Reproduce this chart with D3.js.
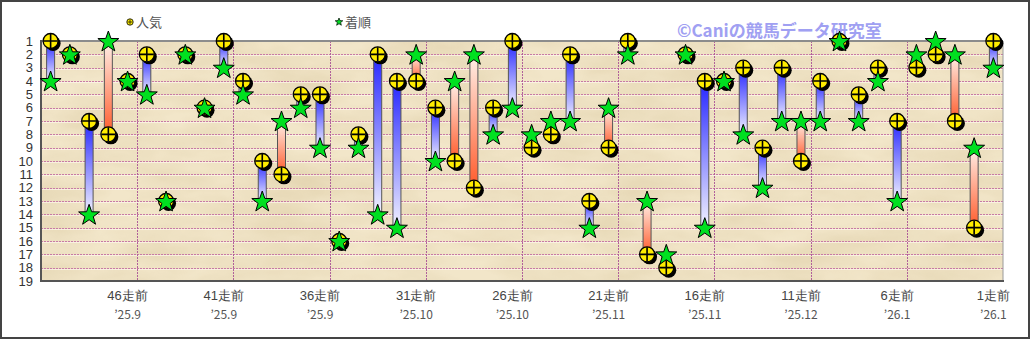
<!DOCTYPE html>
<html><head><meta charset="utf-8">
<script src="https://cdn.jsdelivr.net/npm/d3@7/dist/d3.min.js"></script>
<style>
html,body{margin:0;padding:0;background:#fff;}
svg{display:block;font-family:"Noto Sans CJK JP","Noto Sans",sans-serif;}
</style></head><body>
<svg id="c" width="1030" height="339"></svg>
<script>
// ---- data ----
const races = d3.range(50, 0, -1).map(n => n + "走前");          // 50走前 ... 1走前
const popularity = [1,2,7,8,4,2,13,2,6,1,4,10,11,5,5,16,8,2,4,4,6,10,12,6,1,9,8,2,13,9,1,17,18,2,4,4,3,9,3,10,4,1,5,3,7,3,2,7,15,1];
const finish     = [4,2,14,1,4,5,13,2,6,3,5,13,7,6,9,16,9,14,15,2,10,4,2,8,6,8,7,7,15,6,2,13,17,2,15,4,8,12,7,7,7,1,7,4,13,2,1,2,9,3];
const tickRaces = ["46走前","41走前","36走前","31走前","26走前","21走前","16走前","11走前","6走前","1走前"];
const tickDates = ["’25.9","’25.9","’25.9","’25.10","’25.10","’25.11","’25.11","’25.12","’26.1","’26.1"];
const yTicks = d3.range(1, 20);
const legendLabels = ["人気","着順"];
const watermark = "©Caniの競馬データ研究室";

const svg = d3.select("#c");
const L = 41, R = 1003, T = 41, B = 281;
const x = d3.scaleBand().domain(races).range([L, R]).padding(0);
const y = d3.scaleLinear().domain([1, 19]).range([T, B]);
const cx = r => x(r) + x.bandwidth() / 2;

const defs = svg.append("defs");
// parchment texture
const f = defs.append("filter").attr("id","paper").attr("x",0).attr("y",0).attr("width","100%").attr("height","100%");
f.append("feTurbulence").attr("type","fractalNoise").attr("baseFrequency","0.012 0.03").attr("numOctaves",4).attr("seed",3).attr("result","n");
f.append("feColorMatrix").attr("in","n").attr("type","matrix")
 .attr("values","0 0 0 0 0.55  0 0 0 0 0.42  0 0 0 0 0.2  0 0 0 -1.4 1.0");
f.append("feComposite").attr("operator","in").attr("in2","SourceGraphic");
const gBlue = defs.append("linearGradient").attr("id","gBlue").attr("x1",0).attr("y1",0).attr("x2",0).attr("y2",1);
gBlue.append("stop").attr("offset","0%").attr("stop-color","#2626ff");
gBlue.append("stop").attr("offset","100%").attr("stop-color","#f2f2ff");
const gRed = defs.append("linearGradient").attr("id","gRed").attr("x1",0).attr("y1",0).attr("x2",0).attr("y2",1);
gRed.append("stop").attr("offset","0%").attr("stop-color","#fff1ea");
gRed.append("stop").attr("offset","100%").attr("stop-color","#ff5a2a");

// frame
svg.append("rect").attr("x",1).attr("y",1).attr("width",1028).attr("height",337).attr("fill","#fff").attr("stroke","#444").attr("stroke-width",2);

// plot background
svg.append("rect").attr("x",L).attr("y",T).attr("width",R-L).attr("height",B-T).attr("fill","#f2e6c9");
svg.append("rect").attr("x",L).attr("y",T).attr("width",R-L).attr("height",B-T).attr("fill","#fff").attr("filter","url(#paper)").attr("opacity",0.3);

// horizontal gridlines
svg.append("g").selectAll("line").data(yTicks.slice(1,-1)).join("line")
  .attr("x1",L).attr("x2",R).attr("y1",d=>Math.round(y(d))+0.5).attr("y2",d=>Math.round(y(d))+0.5)
  .attr("stroke","#c77aa6").attr("stroke-width",1).attr("stroke-dasharray","2,1");
svg.append("g").selectAll("line").data(yTicks.slice(1,-1)).join("line")
  .attr("x1",L).attr("x2",R).attr("y1",d=>Math.round(y(d))+1.5).attr("y2",d=>Math.round(y(d))+1.5)
  .attr("stroke","#fff8ee").attr("stroke-width",1).attr("opacity",0.7);
// vertical gridlines
svg.append("g").selectAll("line").data(tickRaces.slice(0,-1)).join("line")
  .attr("x1",d=>Math.round(x(d)+x.bandwidth())+0.5).attr("x2",d=>Math.round(x(d)+x.bandwidth())+0.5)
  .attr("y1",T).attr("y2",B)
  .attr("stroke","#b0609a").attr("stroke-width",1).attr("stroke-dasharray","2,1");

// plot border
svg.append("line").attr("x1",L).attr("x2",R).attr("y1",T).attr("y2",T).attr("stroke","#8c8c8c").attr("stroke-width",2);
svg.append("line").attr("x1",R).attr("x2",R).attr("y1",T).attr("y2",B).attr("stroke","#9a9a9a").attr("stroke-width",1);
svg.append("line").attr("x1",L).attr("x2",R+1).attr("y1",B).attr("y2",B).attr("stroke","#555").attr("stroke-width",2);
svg.append("line").attr("x1",L).attr("x2",L).attr("y1",T-1).attr("y2",B+1).attr("stroke","#555").attr("stroke-width",2);

// y axis labels
const yAxis = svg.append("g").attr("transform",`translate(${L-8},0)`)
  .call(d3.axisLeft(y).tickValues(yTicks).tickSize(0).tickPadding(0).tickFormat(d3.format("d")));
yAxis.select(".domain").remove();
yAxis.selectAll("text").attr("font-size",13).attr("fill","#333").attr("font-family","Liberation Sans, Arial, sans-serif");

// x axis labels
const xAxis = svg.append("g").attr("transform",`translate(0,${B})`)
  .call(d3.axisBottom(x).tickValues(tickRaces).tickSize(0).tickPadding(10));
xAxis.select(".domain").remove();
xAxis.selectAll("text").attr("font-size",13).attr("fill","#444");
svg.append("g").selectAll("text").data(tickRaces).join("text")
  .attr("x",d=>cx(d)).attr("y",B+38).attr("text-anchor","middle")
  .attr("font-size",12).attr("fill","#555").text((d,i)=>tickDates[i]);

// legend
const lg = svg.append("g");
lg.append("circle").attr("cx",130).attr("cy",22).attr("r",3.2).attr("fill","#ffee00").attr("stroke","#000").attr("stroke-width",0.8);
lg.append("path").attr("d","M127.5,22H132.5M130,19.5V24.5").attr("stroke","#000").attr("stroke-width",0.7);
lg.append("text").attr("x",136).attr("y",27).attr("font-size",13).attr("fill","#555").text(legendLabels[0]);
const starPath = (r1, r2) => d3.range(10).map(i => {
  const a = -Math.PI/2 + i*Math.PI/5, r = i%2 ? r2 : r1;
  return (i? "L":"M") + (r*Math.cos(a)).toFixed(2) + "," + (r*Math.sin(a)).toFixed(2);
}).join("") + "Z";
lg.append("path").attr("d",starPath(4,1.7)).attr("transform","translate(339,22)").attr("fill","#00dd22").attr("stroke","#000").attr("stroke-width",0.7);
lg.append("text").attr("x",345).attr("y",27).attr("font-size",13).attr("fill","#555").text(legendLabels[1]);

// watermark
svg.append("text").attr("x",677).attr("y",37).attr("font-size",17).attr("font-weight","bold")
  .attr("fill","#a0a0f2").text(watermark);

// data
const data = races.map((r,i)=>({r, p:popularity[i], f:finish[i]}));
const bw = 8;
svg.append("g").selectAll("rect").data(data.filter(d=>d.p!==d.f)).join("rect")
  .attr("x",d=>cx(d.r)-bw/2).attr("width",bw)
  .attr("y",d=>y(Math.min(d.p,d.f))).attr("height",d=>Math.abs(y(d.p)-y(d.f)))
  .attr("fill",d=>d.p<d.f?"url(#gBlue)":"url(#gRed)")
  .attr("stroke","#555").attr("stroke-width",1);

// circles (popularity)
const cg = svg.append("g");
cg.selectAll("circle.sh").data(data).join("circle").attr("class","sh")
  .attr("cx",d=>cx(d.r)+2.5).attr("cy",d=>y(d.p)+2.5).attr("r",7.5).attr("fill","#000");
cg.selectAll("circle.c").data(data).join("circle").attr("class","c")
  .attr("cx",d=>cx(d.r)).attr("cy",d=>y(d.p)).attr("r",7.5).attr("fill","#ffec00").attr("stroke","#000").attr("stroke-width",1.3);
cg.selectAll("path").data(data).join("path")
  .attr("d",d=>{const X=cx(d.r),Y=y(d.p);return `M${X-7},${Y}H${X+7}M${X},${Y-7}V${Y+7}`;})
  .attr("stroke","#000").attr("stroke-width",1.6);

// stars (finish)
svg.append("g").selectAll("path").data(data).join("path")
  .attr("d",starPath(11,4.4))
  .attr("transform",d=>`translate(${cx(d.r)},${y(d.f)+1})`)
  .attr("fill","#00e020").attr("stroke","#000").attr("stroke-width",1);
</script></body></html>
